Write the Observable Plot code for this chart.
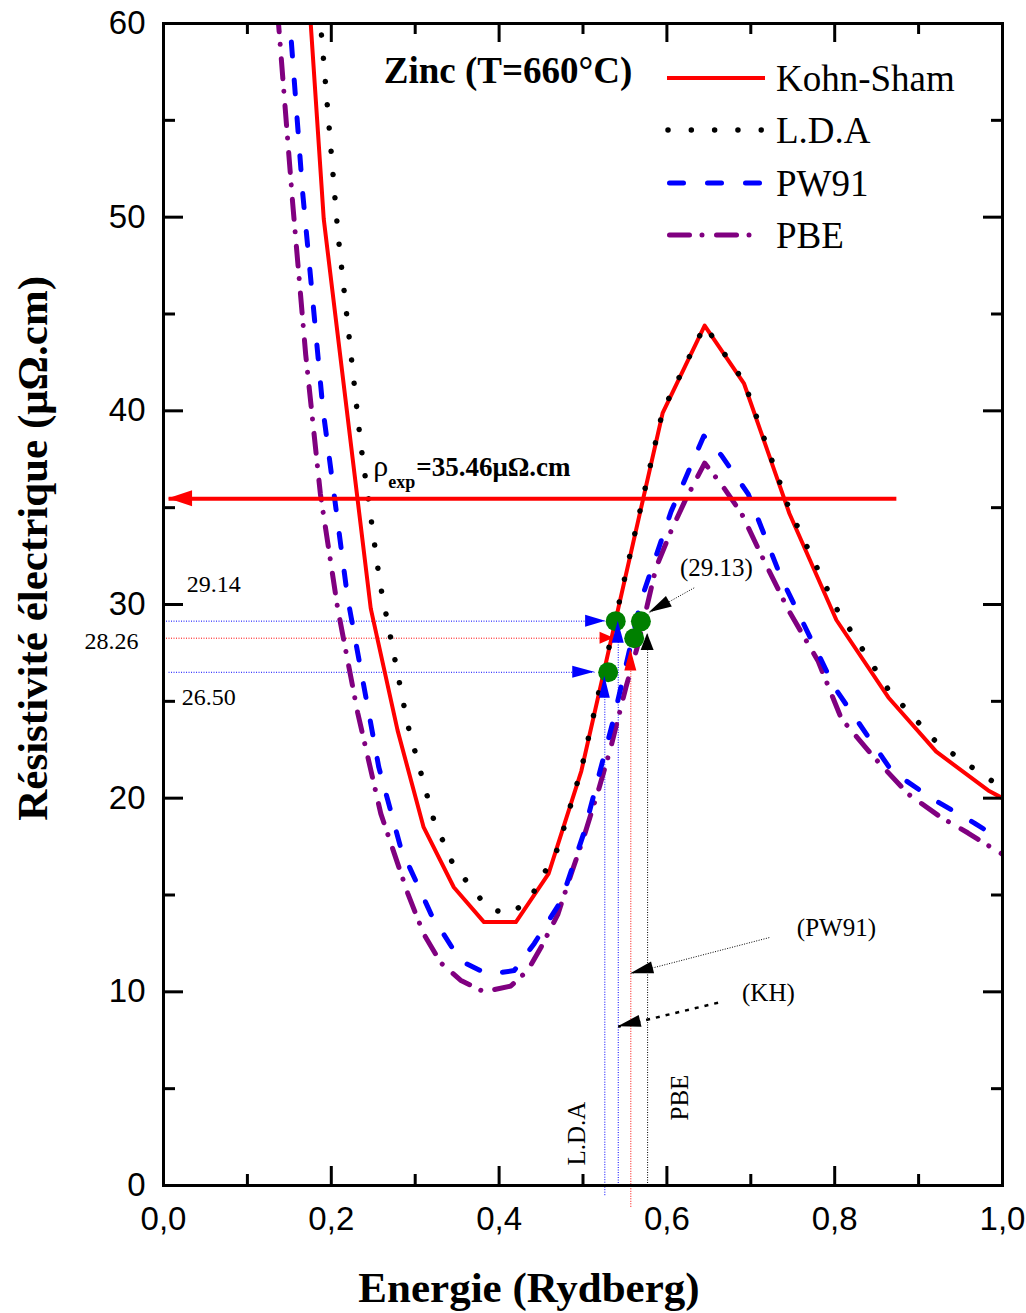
<!DOCTYPE html>
<html><head><meta charset="utf-8">
<script src="https://cdn.jsdelivr.net/npm/d3@7"></script>
<script src="https://cdn.jsdelivr.net/npm/@observablehq/plot@0.6"></script>
<style>body{margin:0;background:#fff}#chart{width:1026px;height:1313px}</style>
</head><body><div id="chart"></div>
<script>
// ---------- data ----------
const ksE = [0.175,0.191,0.247,0.279,0.310,0.346,0.382,0.420,0.459,0.498,0.595,0.645,0.692,0.746,0.802,0.864,0.921,0.983,1.000];
const ksR = [60.3,49.9,29.8,23.5,18.5,15.4,13.6,13.6,16.1,21.4,39.9,44.4,41.4,34.7,29.2,25.2,22.4,20.4,20.0];

const ldaE = [0.186,0.208,0.235,0.258,0.291,0.322,0.345,0.387,0.414,0.438,0.470,0.498,0.595,0.645,0.692,0.746,0.802,0.864,0.921,0.983,1.000];
const ldaR = [60.6,49.1,38.3,31.1,23.8,18.9,16.6,14.3,14.0,14.9,17.4,21.5,40.0,44.4,41.5,34.9,29.8,25.6,22.9,21.0,20.6];

const pwE = [0.149,0.166,0.190,0.2196,0.2566,0.283,0.319,0.354,0.387,0.418,0.442,0.474,0.501,0.536,0.569,0.605,0.644,0.665,0.697,0.736,0.800,0.868,0.919,0.967,1.000];
const pwR = [61.0,51.2,40.1,30.3,21.6,17.4,14.0,11.6,10.9,11.1,12.5,14.7,18.2,24.0,30.2,34.8,38.7,37.7,35.7,31.4,25.7,21.4,19.9,18.7,17.8];

const pbeE = [0.136,0.154,0.1695,0.187,0.2076,0.2315,0.259,0.291,0.310,0.3305,0.354,0.382,0.414,0.434,0.450,0.470,0.486,0.501,0.519,0.533,0.551,0.566,0.587,0.605,0.621,0.645,0.665,0.689,0.712,0.745,0.780,0.808,0.847,0.888,0.927,0.959,1.000];
const pbeR = [60.6,50.7,42.9,35.7,29.8,24.4,19.2,15.1,13.0,11.5,10.6,10.0,10.3,11.1,12.3,14.0,16.1,18.0,20.5,22.6,25.7,28.0,31.9,33.8,35.3,37.3,36.2,34.7,32.6,29.7,27.1,24.1,22.1,20.2,19.0,18.2,17.1];

const seriesNames = ["Kohn-Sham","L.D.A","PW91","PBE"];

// experimental resistivity
const rhoExp = 35.46;
const rhoExpE = [0.8735, 0.006];      // arrow from -> to

// horizontal reference lines
const hRefR = [29.14, 28.26, 26.50];
const hRefE1 = [0.000, 0.000, 0.006];
const hRefE2 = [0.527, 0.537, 0.514];
const hRefLabel = ["29.14", "28.26", "26.50"];
const hRefLabelE = [0.060, -0.062, 0.054];
const hRefLabelR = [31.06, 28.10, 25.20];

// vertical reference lines
const vRefE = [0.526, 0.542, 0.557, 0.577];
const vRefR1 = [-0.5, 0.0, -1.1, 0.0];
const vRefR2 = [26.3, 29.14, 27.7, 28.5];

// green points
const ptE = [0.539, 0.569, 0.561, 0.530];
const ptR = [29.14, 29.13, 28.26, 26.50];

// pointer notes
const noteText = ["(29.13)", "(PW91)", "(KH)"];
const noteE = [0.659, 0.802, 0.721];
const noteR = [31.9, 13.32, 9.96];
const noteTailE = [0.6325, 0.722, 0.661];
const noteTailR = [30.86, 12.80, 9.44];
const noteTipE = [0.579, 0.557, 0.542];
const noteTipR = [29.57, 10.94, 8.20];

// vertical method labels
const vLabel = ["L.D.A", "PBE"];
const vLabelE = [0.493, 0.616];
const vLabelR = [2.68, 4.54];

// ticks
const xMajor = [0, 0.2, 0.4, 0.6, 0.8, 1.0];
const xMinor = [0.1, 0.3, 0.5, 0.7, 0.9];
const yMajor = [0, 10, 20, 30, 40, 50, 60];
const yMinor = [5, 15, 25, 35, 45, 55];

// ---------- build ----------
const toRows = (E, R) => E.map((e, i) => ({e, r: R[i]}));
const ks = toRows(ksE, ksR), lda = toRows(ldaE, ldaR), pw = toRows(pwE, pwR), pbe = toRows(pbeE, pbeR);
const hRefs = hRefR.map((r, i) => ({r, e1: hRefE1[i], e2: hRefE2[i], label: hRefLabel[i], le: hRefLabelE[i], lr: hRefLabelR[i]}));
const vRefs = vRefE.map((e, i) => ({e, r1: vRefR1[i], r2: vRefR2[i]}));
const pts = ptE.map((e, i) => ({e, r: ptR[i]}));
const notes = noteText.map((t, i) => ({t, e: noteE[i], r: noteR[i], e1: noteTailE[i], r1: noteTailR[i], e2: noteTipE[i], r2: noteTipR[i]}));

const W = 1026, H = 1313, mL = 163, mR = 24, mT = 23, mB = 128;
const iW = W - mL - mR, iH = H - mT - mB;
const serif = "Liberation Serif, Times New Roman, serif";
const sans = "Liberation Sans, Arial, sans-serif";
const RED = "#ff0000", BLUE = "#0000ff", PURPLE = "#800080", GREEN = "#008000";
const hColors = [BLUE, RED, BLUE];
const vColors = [BLUE, BLUE, RED, "#000"];

const plot = Plot.plot({
  width: W, height: H,
  marginLeft: mL, marginRight: mR, marginTop: mT, marginBottom: mB,
  x: {domain: [0, 1]},
  y: {domain: [0, 60]},
  style: {background: "white", fontFamily: serif, color: "black", overflow: "visible"},
  marks: [
    // reference dotted lines
    Plot.link(hRefs, {x1: "e1", x2: "e2", y1: "r", y2: "r", stroke: (d, i) => hColors[i], strokeWidth: 1, strokeDasharray: "1,1.5"}),
    Plot.link(vRefs, {x1: "e", x2: "e", y1: "r1", y2: "r2", stroke: (d, i) => vColors[i], strokeWidth: 1, strokeDasharray: "1,1.5"}),
    // curves
    Plot.line(pbe, {x: "e", y: "r", stroke: PURPLE, strokeWidth: 5, strokeLinecap: "round", strokeDasharray: "20,12.5,0.01,14.5", clip: true}),
    Plot.line(pw, {x: "e", y: "r", stroke: BLUE, strokeWidth: 5, strokeLinecap: "round", strokeDasharray: "14,24", clip: true}),
    Plot.line(ks, {x: "e", y: "r", stroke: RED, strokeWidth: 4, clip: true}),
    Plot.line(lda, {x: "e", y: "r", stroke: "black", strokeWidth: 5.5, strokeLinecap: "round", strokeDasharray: "0.01,23.3", clip: true}),
    // experimental line
    Plot.link([rhoExp], {x1: rhoExpE[0], x2: rhoExpE[1], y1: d => d, y2: d => d, stroke: RED, strokeWidth: 4}),
    // pointer lines
    Plot.link(notes.slice(0, 2), {x1: "e1", y1: "r1", x2: "e2", y2: "r2", stroke: "black", strokeWidth: 1, strokeDasharray: "1,1.5"}),
    Plot.link(notes.slice(2), {x1: "e1", y1: "r1", x2: "e2", y2: "r2", stroke: "black", strokeWidth: 2.5, strokeDasharray: "4,6"}),
    // green points
    Plot.dot(pts, {x: "e", y: "r", r: 10, fill: GREEN, stroke: "none"}),
    // frame + inward ticks
    Plot.frame({stroke: "black", strokeWidth: 3}),
    Plot.ruleX(xMajor, {x: d => d, insetTop: iH - 19, strokeWidth: 3}),
    Plot.ruleX(xMajor, {x: d => d, insetBottom: iH - 19, strokeWidth: 3}),
    Plot.ruleX(xMinor, {x: d => d, insetTop: iH - 11, strokeWidth: 3}),
    Plot.ruleX(xMinor, {x: d => d, insetBottom: iH - 11, strokeWidth: 3}),
    Plot.ruleY(yMajor, {y: d => d, insetRight: iW - 20, strokeWidth: 3}),
    Plot.ruleY(yMajor, {y: d => d, insetLeft: iW - 19, strokeWidth: 3}),
    Plot.ruleY(yMinor, {y: d => d, insetRight: iW - 12, strokeWidth: 3}),
    Plot.ruleY(yMinor, {y: d => d, insetLeft: iW - 11, strokeWidth: 3}),
    // tick labels
    Plot.axisX({ticks: xMajor, tickSize: 0, tickPadding: 21, tickFormat: d => d.toFixed(1).replace(".", ","), fontSize: 33, fontFamily: sans, label: null}),
    Plot.axisY({ticks: yMajor, tickSize: 0, tickPadding: 18, fontSize: 33, fontFamily: sans, label: null}),
    // axis titles
    Plot.text(["Energie (Rydberg)"], {x: 0.4356, y: -5.32, text: d => d, fontSize: 43, fontWeight: "bold", fontFamily: serif}),
    Plot.text(["Résistivité électrique (μΩ.cm)"], {x: -0.155, y: 32.9, text: d => d, rotate: -90, fontSize: 43, fontWeight: "bold", fontFamily: serif}),
    // title
    Plot.text(["Zinc (T=660°C)"], {x: 0.2625, y: 56.95, text: d => d, textAnchor: "start", lineAnchor: "bottom", fontSize: 37, fontWeight: "bold", fontFamily: serif}),
    // rho exp label
    Plot.text(["ρ"], {x: 0.25, y: 36.63, text: d => d, textAnchor: "start", lineAnchor: "bottom", fontSize: 30, fontFamily: serif}),
    Plot.text(["exp"], {x: 0.25, y: 36.63, text: d => d, textAnchor: "start", lineAnchor: "bottom", dx: 15, dy: 12, fontSize: 18, fontWeight: "bold", fontFamily: serif}),
    Plot.text(["=35.46μΩ.cm"], {x: 0.25, y: 36.63, text: d => d, textAnchor: "start", lineAnchor: "bottom", dx: 43, fontSize: 27, fontWeight: "bold", fontFamily: serif}),
    // reference labels
    Plot.text(hRefs, {x: "le", y: "lr", text: "label", fontSize: 24, fontFamily: serif}),
    Plot.text(notes, {x: "e", y: "r", text: "t", fontSize: 25, fontFamily: serif}),
    Plot.text(vLabel, {x: (d, i) => vLabelE[i], y: (d, i) => vLabelR[i], text: d => d, rotate: -90, fontSize: 25, fontFamily: serif})
  ]
});

document.getElementById("chart").appendChild(plot);

// ---------- arrowheads (positioned through Plot's scales) ----------
const sx = plot.scale("x"), sy = plot.scale("y");
const g = d3.select(plot).append("g");
function head(tip, tail, len, half, color) {
  const tx = sx.apply(tip[0]), ty = sy.apply(tip[1]);
  const bx = sx.apply(tail[0]), by = sy.apply(tail[1]);
  const dx = tx - bx, dy = ty - by, L = Math.hypot(dx, dy);
  const ux = dx / L, uy = dy / L;
  const cx = tx - ux * len, cy = ty - uy * len;
  const p = [[tx, ty], [cx - uy * half, cy + ux * half], [cx + uy * half, cy - ux * half]];
  g.append("polygon").attr("points", p.map(q => q.join(",")).join(" ")).attr("fill", color);
}
head([rhoExpE[1], rhoExp], [rhoExpE[0], rhoExp], 24, 8, RED);
const hHead = [[20, 6], [14, 6], [22, 6]];
hRefs.forEach((d, i) => head([d.e2, d.r], [d.e1, d.r], hHead[i][0], hHead[i][1], hColors[i]));
const vHead = [[22, 5.5], [22, 6], [22, 6], [17, 6.5]];
vRefs.forEach((d, i) => head([d.e, d.r2], [d.e, d.r1], vHead[i][0], vHead[i][1], vColors[i]));
notes.forEach(d => head([d.e2, d.r2], [d.e1, d.r1], 23, 6, "black"));

// ---------- legend ----------
const legY = [78, 130, 183, 235];
const legStyles = [
  {stroke: RED, w: 4, dash: null, cap: "butt", x1: 667, x2: 765},
  {stroke: "black", w: 5.5, dash: "0.01,23.3", cap: "round", x1: 668, x2: 762},
  {stroke: BLUE, w: 5, dash: "14,24", cap: "round", x1: 669.5, x2: 762.5},
  {stroke: PURPLE, w: 5, dash: "20,12.5,0.01,14.5", cap: "round", x1: 669.5, x2: 750}
];
const leg = g.append("g").attr("text-anchor", "start");
seriesNames.forEach((name, i) => {
  const s = legStyles[i];
  leg.append("line").attr("x1", s.x1).attr("x2", s.x2).attr("y1", legY[i]).attr("y2", legY[i])
    .attr("stroke", s.stroke).attr("stroke-width", s.w).attr("stroke-linecap", s.cap)
    .attr("stroke-dasharray", s.dash);
  leg.append("text").attr("x", 776).attr("y", legY[i] + 13).attr("font-family", serif)
    .attr("text-anchor", "start").attr("font-size", 37).attr("fill", "black").text(name);
});
</script>
</body></html>
